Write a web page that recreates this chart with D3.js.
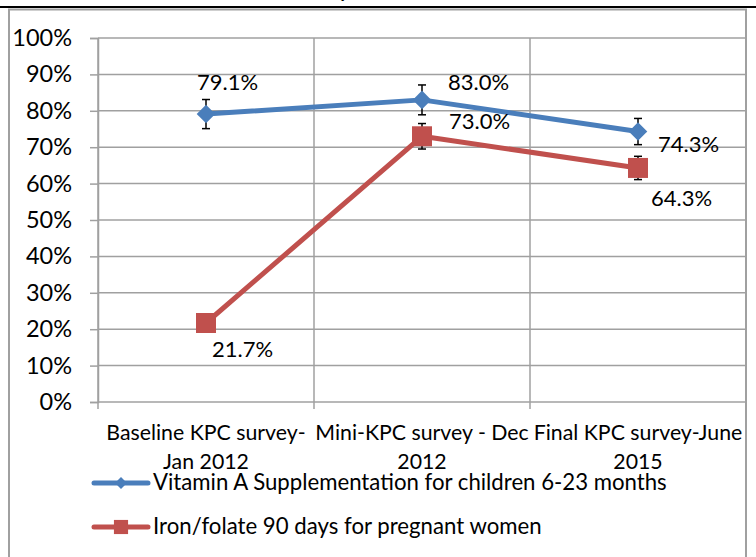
<!DOCTYPE html>
<html>
<head>
<meta charset="utf-8">
<script src="https://cdn.jsdelivr.net/npm/d3@7"></script>
<style>
  body { margin: 0; background: #fff; }
  svg { display: block; font-family: Lato, "Open Sans", sans-serif; }
</style>
</head>
<body>
<svg id="chart" width="756" height="557"></svg>
<script>
// categories (two lines each, as in the original)
const categories = [
  ["Baseline KPC survey-", "Jan 2012"],
  ["Mini-KPC survey - Dec", "2012"],
  ["Final KPC survey-June", "2015"]
]
const seriesNames = [
  "Vitamin A Supplementation for children 6-23 months",
  "Iron/folate 90 days for pregnant women"
]
const vitaminA = [79.1, 83.0, 74.3]
const ironFolate = [21.7, 73.0, 64.3]
// error bar half widths (percentage points)
const vitaminAErr = [4.0, 4.1, 3.6]
const ironFolateErr = [1.5, 3.5, 3.2]
const yTicks = [0, 10, 20, 30, 40, 50, 60, 70, 80, 90, 100]

// label offsets from the point, px (hand placed like the original)
const vitaminALabelPos = [[-9, -24], [26, -10], [20, 20]]
const ironLabelPos = [[6, 34], [27, -7], [13, 38]]

const blue = "#4a7ebb", red = "#c0504d", grid = "#a0a0a0"

const svg = d3.select("#chart")

const plot = { left: 98, right: 746, top: 38, bottom: 402 }

const x = d3.scaleBand()
  .domain(d3.range(categories.length))
  .range([plot.left, plot.right])
  .padding(0)
const y = d3.scaleLinear().domain([0, 100]).range([plot.bottom, plot.top])
const cx = i => x(i) + x.bandwidth() / 2

// cropped title remnant + frame
svg.append("text").attr("x", 338).attr("y", -4).attr("font-size", 26).text("y")
svg.append("line").attr("x1", 0).attr("x2", 756).attr("y1", 7).attr("y2", 7)
  .attr("stroke", "#000").attr("stroke-width", 2)
const frame = svg.append("g").attr("stroke", grid).attr("stroke-width", 2).attr("fill", "none")
frame.append("path").attr("d", "M9,557V9.5H746V557")

// horizontal gridlines + y axis
const yAxis = svg.append("g")
  .attr("transform", `translate(${plot.left},0)`)
  .call(d3.axisLeft(y).tickValues(yTicks).tickSize(8).tickFormat(d => d + "%"))
yAxis.select(".domain").attr("stroke", grid).attr("stroke-width", 1.5)
yAxis.selectAll(".tick line").attr("stroke", grid).attr("stroke-width", 1.5)
yAxis.selectAll(".tick text").attr("x", -26).attr("font-size", 23.5)
  .attr("font-family", "Lato, sans-serif").attr("fill", "#000")
svg.append("g").selectAll("line")
  .data(yTicks.filter(d => d > 0))
  .join("line")
  .attr("x1", plot.left).attr("x2", plot.right)
  .attr("y1", d => y(d)).attr("y2", d => y(d))
  .attr("stroke", grid).attr("stroke-width", 1.5)

// vertical gridlines at category boundaries
const bounds = d3.range(categories.length + 1).map(i => plot.left + i * x.bandwidth())
svg.append("g").selectAll("line")
  .data(bounds)
  .join("line")
  .attr("x1", d => d).attr("x2", d => d)
  .attr("y1", plot.top).attr("y2", plot.bottom + 7)
  .attr("stroke", grid).attr("stroke-width", 1.5)
svg.append("line")
  .attr("x1", plot.left).attr("x2", plot.right)
  .attr("y1", plot.bottom).attr("y2", plot.bottom)
  .attr("stroke", grid).attr("stroke-width", 1.5)

// category labels
const catG = svg.append("g").attr("font-size", 21.3).attr("text-anchor", "middle")
categories.forEach((lines, i) => {
  const t = catG.append("text").attr("x", cx(i)).attr("y", 440)
  lines.forEach((l, j) => {
    t.append("tspan").attr("x", cx(i)).attr("dy", j ? 29 : 0).text(l)
  })
})

const diamond = d3.symbol().type(d3.symbolDiamond2)
const square = d3.symbol().type(d3.symbolSquare)

function drawSeries(values, errs, color, marker, size, labelPos) {
  const g = svg.append("g")
  g.append("path")
    .datum(values)
    .attr("fill", "none").attr("stroke", color).attr("stroke-width", 5)
    .attr("stroke-linejoin", "round")
    .attr("d", d3.line().x((d, i) => cx(i)).y(d => y(d)))
  // error bars
  const eb = g.append("g").attr("stroke", "#000").attr("stroke-width", 1.5)
  values.forEach((v, i) => {
    const e = errs[i]
    eb.append("line").attr("x1", cx(i)).attr("x2", cx(i)).attr("y1", y(v + e)).attr("y2", y(v - e))
    eb.append("line").attr("x1", cx(i) - 4).attr("x2", cx(i) + 4).attr("y1", y(v + e)).attr("y2", y(v + e))
    eb.append("line").attr("x1", cx(i) - 4).attr("x2", cx(i) + 4).attr("y1", y(v - e)).attr("y2", y(v - e))
  })
  g.selectAll(".mk")
    .data(values)
    .join("path")
    .attr("class", "mk")
    .attr("transform", (d, i) => `translate(${cx(i)},${y(d)})`)
    .attr("d", marker.size(size))
    .attr("fill", color)
  g.selectAll(".lbl")
    .data(values)
    .join("text")
    .attr("class", "lbl")
    .attr("x", (d, i) => cx(i) + labelPos[i][0])
    .attr("y", (d, i) => y(d) + labelPos[i][1])
    .attr("font-size", 22)
    .text(d => d.toFixed(1) + "%")
}

drawSeries(vitaminA, vitaminAErr, blue, diamond, 220, vitaminALabelPos)
drawSeries(ironFolate, ironFolateErr, red, square, 400, ironLabelPos)

// legend
const legend = svg.append("g").attr("font-size", 22.2)
const legendY = [483, 527]
const legendColors = [blue, red]
const legendMarkers = [diamond.size(90), square.size(200)]
seriesNames.forEach((name, i) => {
  const gy = legendY[i]
  legend.append("line").attr("x1", 94).attr("x2", 148).attr("y1", gy).attr("y2", gy)
    .attr("stroke", legendColors[i]).attr("stroke-width", 5).attr("stroke-linecap", "round")
  legend.append("path").attr("transform", `translate(121,${gy})`)
    .attr("d", legendMarkers[i]).attr("fill", legendColors[i])
  legend.append("text").attr("x", 153).attr("y", gy + 7).text(name)
})
</script>
</body>
</html>
